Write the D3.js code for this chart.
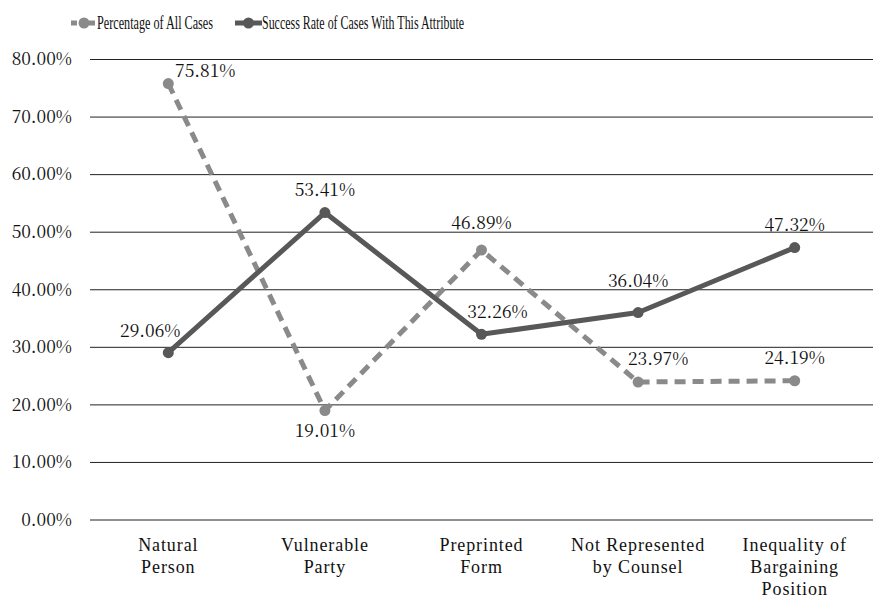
<!DOCTYPE html>
<html><head><meta charset="utf-8">
<script src="https://cdn.jsdelivr.net/npm/d3@7"></script>
<style>body{margin:0;background:#fff}svg{display:block}</style>
</head><body><svg id="c" width="873" height="599"></svg>
<script>
const categories = [["Natural","Person"],["Vulnerable","Party"],["Preprinted","Form"],["Not Represented","by Counsel"],["Inequality of","Bargaining","Position"]];
const seriesNames = ["Percentage of All Cases","Success Rate of Cases With This Attribute"];
const pctAllCases = [75.81, 19.01, 46.89, 23.97, 24.19];
const successRate = [29.06, 53.41, 32.26, 36.04, 47.32];
const yTicks = [0,10,20,30,40,50,60,70,80];
// label offsets (dx, dy of baseline) from point
const pctLabelOff = [[37,-7],[0,26],[0,-21],[20,-17],[0,-17]];
const sucLabelOff = [[-18,-16],[0,-17],[16,-16],[0,-26],[0,-17]];

const svg = d3.select("#c");
const x = d3.scaleBand().domain(d3.range(categories.length)).range([90,873]);
const y = d3.scaleLinear().domain([0,80]).range([520,59.5]);
const cx = i => x(i) + x.bandwidth()/2;

const serif = "'Noto Serif CJK SC', 'Liberation Serif', serif";
const fs = 17.5;
// gridlines
svg.append("g").selectAll("line").data(yTicks).join("line")
  .attr("x1",90).attr("x2",873).attr("y1",d=>y(d)).attr("y2",d=>y(d))
  .attr("stroke","#222").attr("stroke-width",1);
// y labels
svg.append("g").selectAll("text").data(yTicks).join("text")
  .attr("x",72).attr("y",d=>y(d)).attr("dy","0.33em").attr("text-anchor","end")
  .attr("font-family",serif).attr("font-size",fs).attr("fill","#111")
  .text(d=>d.toFixed(2)+"%");
// category labels
const cg = svg.append("g");
categories.forEach((lines,i)=>{
  lines.forEach((l,j)=>cg.append("text").attr("text-anchor","middle")
    .attr("font-family","'Liberation Serif', serif").attr("letter-spacing","0.9px")
    .attr("font-size",18).attr("fill","#111")
    .attr("x",cx(i)).attr("y",551+j*21.8).text(l));
});

const line = d3.line().x((d,i)=>cx(i)).y(d=>y(d));
const c1 = "#8a8a8a", c2 = "#585858";
svg.append("path").datum(pctAllCases).attr("d",line).attr("fill","none")
  .attr("stroke",c1).attr("stroke-width",5).attr("stroke-dasharray","11,7");
svg.append("g").selectAll("circle").data(pctAllCases).join("circle")
  .attr("cx",(d,i)=>cx(i)).attr("cy",d=>y(d)).attr("r",5.5).attr("fill",c1);
svg.append("path").datum(successRate).attr("d",line).attr("fill","none")
  .attr("stroke",c2).attr("stroke-width",5).attr("stroke-linejoin","round");
svg.append("g").selectAll("circle").data(successRate).join("circle")
  .attr("cx",(d,i)=>cx(i)).attr("cy",d=>y(d)).attr("r",5.5).attr("fill",c2);

// data labels
function labels(data, off){
  svg.append("g").selectAll("text").data(data).join("text")
    .attr("x",(d,i)=>cx(i)+off[i][0]).attr("y",(d,i)=>y(d)+off[i][1])
    .attr("text-anchor","middle").attr("font-family",serif).attr("font-size",fs)
    .attr("fill","#111").text(d=>d.toFixed(2)+"%");
}
labels(pctAllCases, pctLabelOff);
labels(successRate, sucLabelOff);

// legend
const lg = svg.append("g");
const legItems = [{x0:71,x1:97,color:c1,dash:"6,3",tx:97,tw:116},{x0:235,x1:262,color:c2,dash:null,tx:262,tw:202}];
legItems.forEach((it,k)=>{
  lg.append("line").attr("x1",it.x0).attr("x2",it.x1).attr("y1",23).attr("y2",23)
    .attr("stroke",it.color).attr("stroke-width",5).attr("stroke-dasharray",it.dash);
  lg.append("circle").attr("cx",(it.x0+it.x1)/2).attr("cy",23).attr("r",5.5).attr("fill",it.color);
  lg.append("text").attr("x",it.tx).attr("y",28.5).attr("font-family","'Liberation Serif', serif")
    .attr("font-size",19).attr("fill","#111")
    .attr("textLength",it.tw).attr("lengthAdjust","spacingAndGlyphs").text(seriesNames[k]);
});
</script></body></html>
